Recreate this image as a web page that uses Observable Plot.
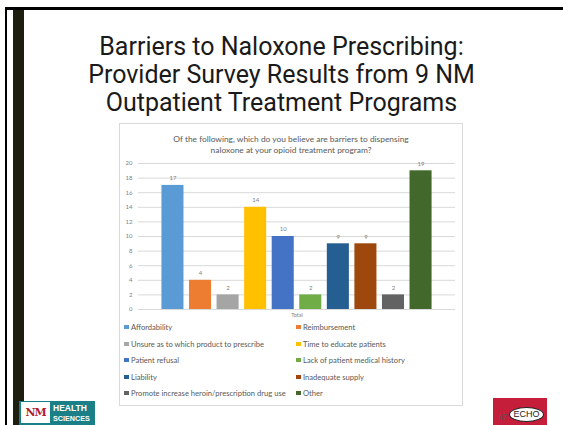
<!DOCTYPE html>
<html><head><meta charset="utf-8">
<script src="https://cdn.jsdelivr.net/npm/d3@7"></script>
<script src="https://cdn.jsdelivr.net/npm/@observablehq/plot@0.6"></script>
<style>
html,body{margin:0;padding:0;}
body{width:563px;height:425px;position:relative;overflow:hidden;background:#fff;font-family:Lato,"Open Sans",sans-serif;}
.abs{position:absolute;}
#title{left:30px;width:503px;top:33px;text-align:center;font-family:"Roboto",sans-serif;font-size:25px;line-height:28px;color:#1a1a1a;}
#box{left:119px;top:123px;width:342px;height:281px;border:1px solid #d9d9d9;box-sizing:content-box;}
#ctitle{left:0;width:342px;top:10px;text-align:center;font-size:8.4px;line-height:11px;color:#595959;}
#chart{left:0;top:31px;}
.leg{position:absolute;font-size:7.6px;color:#595959;white-space:nowrap;line-height:10px;}
.sw{display:inline-block;width:4.5px;height:4.5px;margin-right:2.5px;vertical-align:1px;}
</style></head>
<body>
<div class="abs" style="left:5px;top:7px;width:558px;height:3px;background:#000"></div>
<div class="abs" style="left:5px;top:7px;width:2px;height:418px;background:#000"></div>
<div class="abs" style="left:13px;top:10px;width:11px;height:415px;background:#1e1e10"></div>
<div id="title" class="abs">Barriers to Naloxone Prescribing:<br>Provider Survey Results from 9 NM<br>Outpatient Treatment Programs</div>
<div id="box" class="abs">
  <div id="ctitle" class="abs">Of the following, which do you believe are barriers to dispensing<br>naloxone at your opioid treatment program?</div>
  <div id="chart" class="abs"></div>
  <div id="legend"></div>
</div>
<div class="abs" style="left:19px;top:401px;width:76px;height:24px;background:#1b7f87"></div>
<div class="abs" style="left:21px;top:402px;width:29px;height:21px;background:#fff;color:#b01c2e;font-family:'DejaVu Serif',serif;font-weight:bold;font-size:11px;line-height:21px;text-align:center;letter-spacing:-1px">NM</div>
<div class="abs" style="left:53px;top:403px;color:#fff;font-family:'Liberation Sans',sans-serif;font-weight:bold;font-size:8.5px;line-height:10px;">HEALTH<br><span style="font-size:7.2px">SCIENCES</span></div>
<div class="abs" style="left:493px;top:398px;width:54px;height:27px;background:#c41e3a"></div>
<div class="abs" style="left:509px;top:407px;width:33px;height:13px;background:#fff;border-radius:50%;border:1px solid #222;color:#222;font-family:'Liberation Sans',sans-serif;font-size:9px;line-height:13px;text-align:center;">ECHO</div>
<div class="abs" style="left:499px;top:413px;font-size:7px;color:#555;">47</div>
<script>
const categories = ["Affordability","Reimbursement","Unsure as to which product to prescribe","Time to educate patients","Patient refusal","Lack of patient medical history","Liability","Inadequate supply","Promote increase heroin/prescription drug use","Other"];
const values = [17,4,2,14,10,2,9,9,2,19];
const colors = ["#5B9BD5","#ED7D31","#A5A5A5","#FFC000","#4472C4","#70AD47","#255E91","#9E480E","#636363","#43682B"];
const yTicks = [0,2,4,6,8,10,12,14,16,18,20];
const axisLabel = "Total";

const data = categories.map((c,i)=>({cat:c, value:values[i]}));

const chart = Plot.plot({
  width:342, height:172,
  marginTop:8, marginLeft:18, marginRight:7, marginBottom:18,
  style:{background:"transparent", fontFamily:"Lato, sans-serif"},
  x:{domain:categories, paddingInner:0.2, paddingOuter:0.85, round:false, axis:null},
  y:{domain:[0,20], axis:null},
  color:{domain:categories, range:colors},
  marks:[
    Plot.gridY(yTicks,{stroke:"#d9d9d9", strokeOpacity:1, strokeWidth:1}),
    Plot.axisY(yTicks,{tickSize:0, tickPadding:6, fontSize:6, fill:"#7f7f7f", label:null}),
    Plot.barY(data,{x:"cat", y:"value", fill:"cat"}),
    Plot.text(data,{x:"cat", y:"value", text:d=>String(d.value), dy:-7, fontSize:6, fill:"#7f7f7f"}),
    Plot.text([axisLabel],{frameAnchor:"bottom", dy:7, fontSize:5.5, fill:"#7f7f7f"})
  ]
});
document.getElementById("chart").appendChild(chart);

const legend = document.getElementById("legend");
const rowsY = [203,220,236,253,269];
categories.forEach((c,i)=>{
  const d = document.createElement("div");
  d.className="leg";
  const col = i%2, row = Math.floor(i/2);
  d.style.left = (col===0?4:176)+"px";
  d.style.top = (rowsY[row]-5)+"px";
  d.innerHTML = `<span class="sw" style="background:${colors[i]}"></span>${c}`;
  legend.appendChild(d);
});
</script>
</body></html>
